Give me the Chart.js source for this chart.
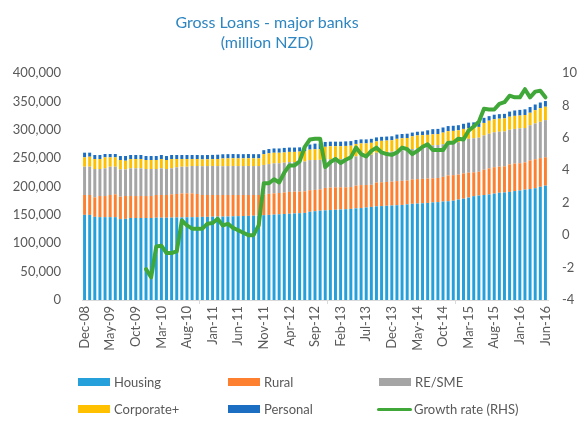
<!DOCTYPE html>
<html><head><meta charset="utf-8">
<script src="https://cdn.jsdelivr.net/npm/chart.js@4.4.0/dist/chart.umd.min.js"></script>
<style>
html,body{margin:0;padding:0;background:#fff;}
#wrap{position:relative;width:582px;height:427px;font-family:Lato,"Open Sans",sans-serif;overflow:hidden;}
#c{position:absolute;left:0;top:0;}
.title{position:absolute;left:0;width:534px;top:12px;text-align:center;color:#2E86C1;font-size:16px;line-height:20px;}
.leg{position:absolute;font-size:13px;color:#595959;line-height:16px;white-space:nowrap;}
.sw{position:absolute;width:32px;height:8px;}
.ln{position:absolute;width:35px;height:3px;border-radius:2px;}
</style></head>
<body>
<div id="wrap">
<canvas id="c" width="582" height="427"></canvas>
<div class="title">Gross Loans - major banks<br>(million NZD)</div>
<div id="legend"></div>
</div>
<script>
const categories = ["Dec-08",
"Jan-09","Feb-09","Mar-09","Apr-09","May-09","Jun-09","Jul-09","Aug-09","Sep-09","Oct-09","Nov-09","Dec-09",
"Jan-10","Feb-10","Mar-10","Apr-10","May-10","Jun-10","Jul-10","Aug-10","Sep-10","Oct-10","Nov-10","Dec-10",
"Jan-11","Feb-11","Mar-11","Apr-11","May-11","Jun-11","Jul-11","Aug-11","Sep-11","Oct-11","Nov-11","Dec-11",
"Jan-12","Feb-12","Mar-12","Apr-12","May-12","Jun-12","Jul-12","Aug-12","Sep-12","Oct-12","Nov-12","Dec-12",
"Jan-13","Feb-13","Mar-13","Apr-13","May-13","Jun-13","Jul-13","Aug-13","Sep-13","Oct-13","Nov-13","Dec-13",
"Jan-14","Feb-14","Mar-14","Apr-14","May-14","Jun-14","Jul-14","Aug-14","Sep-14","Oct-14","Nov-14","Dec-14",
"Jan-15","Feb-15","Mar-15","Apr-15","May-15","Jun-15","Jul-15","Aug-15","Sep-15","Oct-15","Nov-15","Dec-15",
"Jan-16","Feb-16","Mar-16","Apr-16","May-16","Jun-16"];

const housing = [150000,150000,146500,146000,146000,146000,146000,142500,143000,144500,144500,144500,144500,144500,145000,145000,145000,145200,145500,145500,145800,146000,146000,
146500,146500,146800,147000,147000,147200,147500,147800,148000,148200,148500,148800,
149500,150000,150500,151000,151500,152000,152500,153000,153500,
155500,156500,157500,158000,158500,159000,159500,160000,160500,161500,162000,163000,164000,165000,165500,166000,166500,167000,167500,168500,169500,170000,170500,171000,172000,172500,173500,174000,175000,177000,178500,180500,183000,184000,185000,186000,187500,189000,189500,190500,192000,193000,194500,195500,197000,199500,201500];

const rural = [35000,35000,34400,37200,37200,39000,40200,39600,40200,38700,38700,38700,38700,38700,40000,40000,40000,41000,41300,42400,42100,41900,40800,
38500,38500,38200,38000,38000,37800,37500,37200,37000,36800,36500,36200,
36500,37000,37500,37500,38000,38500,38300,38000,38000,
38000,37500,37500,39500,39500,39500,39100,38600,38500,40000,40500,39600,39000,42000,42000,42000,42000,42500,42500,42000,43000,43000,43000,43000,42400,42500,43500,45500,45000,44000,44500,44000,42000,42000,44500,46000,46500,46000,46000,48500,48500,48000,48000,50500,51000,50500,50000];

const reSme = [49900,49900,49900,47600,48800,49900,48700,48100,47000,48800,48800,48800,47600,47600,45800,47000,45800,45800,47000,47000,47000,48200,49300,
50800,51000,51200,51000,50800,51000,51200,51000,51000,51200,51000,51000,
52000,52500,52800,52500,52500,52500,52200,52500,52500,
53000,52700,52000,50500,50000,49500,49600,49900,50000,51500,52500,52400,53000,52500,53000,53000,53000,53500,54000,54000,53500,54000,54500,56000,58100,58000,57500,56500,56000,57000,58000,59500,60000,60000,60500,61000,61500,61500,61500,61000,61000,61500,60500,62000,63000,64000,65500];

const corporate = [16500,17600,17600,17600,19400,16500,16500,16500,15300,16400,16400,16400,15900,15900,15900,16400,15900,16400,14600,13500,13500,12300,12300,
12000,12000,12000,12500,13600,13600,13600,13600,13600,13600,13600,13600,
19000,19000,18700,18500,18000,18000,18000,18000,18500,
18500,18800,19000,22000,23000,23000,22800,23000,23000,22000,21000,21000,21000,20000,20000,20000,20000,21000,21000,21000,22500,23000,22500,21000,19500,19500,20500,21500,22000,21000,20500,19000,18600,19000,22000,23000,23000,23000,23000,23000,23000,22500,23000,22000,23500,24000,23600];

const personal = [8200,7100,7100,7100,5900,5900,5900,7000,8200,7100,7100,7100,7000,7000,7000,7100,7000,7100,7100,7100,7100,7100,7100,
7500,7500,7500,7500,7400,7400,7400,7400,7400,7400,7400,7400,
7000,7500,7500,7500,8000,7600,7600,7500,7500,
9000,10000,10000,8500,8000,8000,8000,8000,8000,7000,7000,7000,7000,7000,7000,7000,7000,7500,7500,7500,6500,6500,6500,8000,9000,9000,9000,9000,9000,9000,9000,9500,9400,9500,9000,8000,8000,8000,8000,9000,9500,10000,10000,10000,10000,10000,10000];

const growthRate = [null,null,null,null,null,null,null,null,null,null,null,null,
-2.1,-2.6,-0.7,-0.65,-1.1,-1.1,-1.0,0.9,0.6,0.4,0.4,0.4,0.7,0.75,1.0,0.6,0.7,0.45,0.3,0.15,0.0,0.0,0.6,
3.2,3.2,3.45,3.25,3.85,4.3,4.3,4.55,5.45,5.9,5.95,5.95,4.2,4.5,4.7,4.45,4.65,4.8,5.4,5.0,4.85,5.2,
5.4,5.1,5.0,4.95,5.1,5.4,5.3,5.0,5.2,5.45,5.6,5.25,5.25,5.25,5.7,5.7,5.95,5.9,6.45,6.7,7.0,
7.8,7.75,7.75,8.1,8.2,8.6,8.5,8.5,9.0,8.5,8.85,8.9,8.5];

const leftTicks = [0,50000,100000,150000,200000,250000,300000,350000,400000];
const rightTicks = [-4,-2,0,2,4,6,8,10];

const colors = {
  housing:'#25A0DA', rural:'#FD8030', reSme:'#A5A5A5', corporate:'#FFC000', personal:'#1B6EC2', growth:'#40A838'
};

const legendItems = [
  {label:'Housing', color:colors.housing, x:78, y:382, type:'box'},
  {label:'Rural', color:colors.rural, x:228, y:382, type:'box'},
  {label:'RE/SME', color:colors.reSme, x:379, y:382, type:'box'},
  {label:'Corporate+', color:colors.corporate, x:78, y:409, type:'box'},
  {label:'Personal', color:colors.personal, x:228, y:409, type:'box'},
  {label:'Growth rate (RHS)', color:colors.growth, x:377, y:409, type:'line'}
];
const lg = document.getElementById('legend');
legendItems.forEach(it=>{
  const s = document.createElement('div');
  if(it.type==='box'){ s.className='sw'; s.style.left=it.x+'px'; s.style.top=(it.y-4)+'px'; }
  else { s.className='ln'; s.style.left=it.x+'px'; s.style.top=(it.y-1.5)+'px'; }
  s.style.background=it.color;
  lg.appendChild(s);
  const t = document.createElement('div');
  t.className='leg'; t.textContent=it.label;
  t.style.left=(it.type==='box'? it.x+36 : it.x+37)+'px'; t.style.top=(it.y-8)+'px';
  lg.appendChild(t);
});

const tickFont = {family:'Lato', size:13};
const tickColor = '#595959';

new Chart(document.getElementById('c'), {
  data: {
    labels: categories,
    datasets: [
      {type:'line', label:'Growth rate (RHS)', data:growthRate, yAxisID:'y1', borderColor:colors.growth, borderWidth:4, pointRadius:0, tension:0, order:0, borderJoinStyle:'round', borderCapStyle:'round'},
      {type:'bar', label:'Housing', data:housing, backgroundColor:colors.housing, yAxisID:'y', order:1},
      {type:'bar', label:'Rural', data:rural, backgroundColor:colors.rural, yAxisID:'y', order:1},
      {type:'bar', label:'RE/SME', data:reSme, backgroundColor:colors.reSme, yAxisID:'y', order:1},
      {type:'bar', label:'Corporate+', data:corporate, backgroundColor:colors.corporate, yAxisID:'y', order:1},
      {type:'bar', label:'Personal', data:personal, backgroundColor:colors.personal, yAxisID:'y', order:1}
    ]
  },
  options: {
    responsive:false, animation:false,
    layout:{padding:{top:73,left:0,right:0,bottom:77}},
    plugins:{legend:{display:false}, title:{display:false}, tooltip:{enabled:false}},
    datasets:{bar:{barPercentage:0.58, categoryPercentage:1}},
    scales:{
      x:{stacked:true, offset:true,
        grid:{offset:true, drawOnChartArea:false, drawTicks:true, tickLength:4,
          color:(c)=> (c.index%5===0 ? '#D9D9D9' : 'rgba(0,0,0,0)')},
        border:{display:true, color:'#D9D9D9'},
        ticks:{autoSkip:false, maxRotation:90, minRotation:90, padding:2, color:tickColor, font:tickFont,
          callback:function(v,i){ return i%5===0 ? categories[i] : null; }},
        afterFit:(s)=>{ s.height=50; }
      },
      y:{stacked:true, position:'left', min:0, max:400000,
        afterBuildTicks:(s)=>{ s.ticks = leftTicks.map(v=>({value:v})); },
        ticks:{padding:21, color:tickColor, font:tickFont, callback:(v)=>Number(v).toLocaleString('en-US')},
        grid:{display:false, drawTicks:false}, border:{display:false},
        afterFit:(s)=>{ s.width=82; }
      },
      y1:{position:'right', min:-4, max:10,
        afterBuildTicks:(s)=>{ s.ticks = rightTicks.map(v=>({value:v})); },
        ticks:{padding:14, color:tickColor, font:tickFont},
        grid:{display:false, drawTicks:false}, border:{display:false},
        afterFit:(s)=>{ s.width=34; }
      }
    }
  }
});
</script>
</body></html>
